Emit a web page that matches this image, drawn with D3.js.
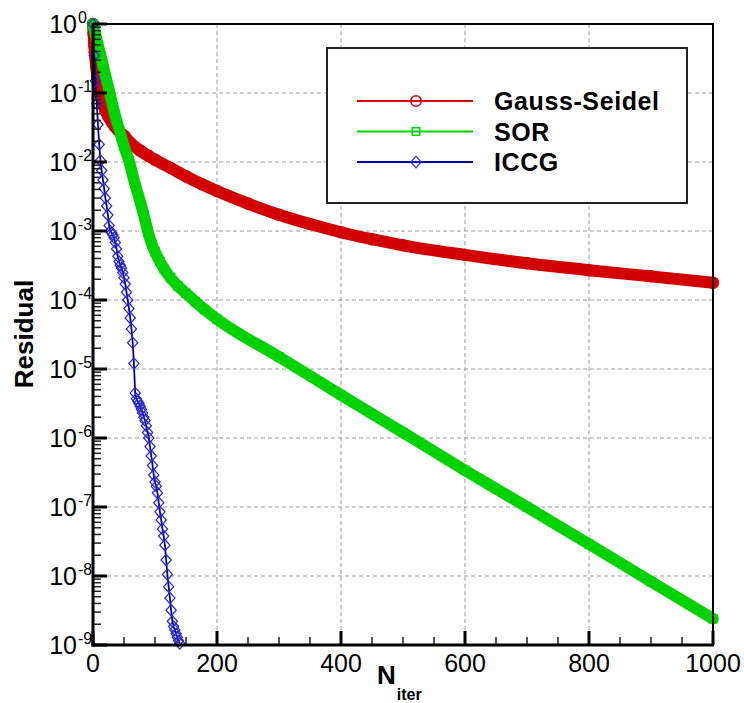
<!DOCTYPE html>
<html>
<head>
<meta charset="utf-8">
<script src="https://cdn.jsdelivr.net/npm/d3@7"></script>
<style>
  body { margin: 0; background: #fff; }
  svg { display: block; font-family: "Liberation Sans", Arial, Helvetica, sans-serif; }
</style>
</head>
<body>
<svg id="chart" width="744" height="703"></svg>
<script>
// Convergence history of three linear solvers: residual vs iteration count.

const seriesNames = ["Gauss-Seidel", "SOR", "ICCG"];

const gsIter = [0, 1, 2, 3, 5, 7, 10, 13, 16, 20, 25, 30, 35, 40, 50, 60, 75, 90, 100, 125, 150, 175,
  200, 250, 300, 350, 400, 450, 500, 600, 700, 800, 900, 1000];
const gsResidual = [1.0, 0.72, 0.5, 0.38, 0.25, 0.17, 0.11, 0.085, 0.07, 0.056, 0.045, 0.038, 0.033, 0.029,
  0.024, 0.019, 0.0148, 0.0122, 0.0108, 0.0082, 0.0062, 0.0048, 0.0038, 0.0025, 0.00172, 0.00126,
  0.00096, 0.00076, 0.00062, 0.00045, 0.00034, 0.00027, 0.00022, 0.000178];

const sorIter = [0, 5, 10, 15, 20, 27, 35, 43, 50, 58, 66, 74, 82, 89, 95, 100, 108, 115, 125, 137, 150,
  165, 180, 200, 300, 400, 500, 600, 700, 800, 900, 1000];
const sorResidual = [1.0, 0.65, 0.43, 0.28, 0.18, 0.1, 0.05, 0.028, 0.017, 0.0105, 0.0055, 0.0031, 0.0017,
  0.00095, 0.00064, 0.0005, 0.00036, 0.00028, 0.00021, 0.00016, 0.000125, 0.000095, 0.000073, 0.000053,
  1.5e-5, 4.2e-6, 1.2e-6, 3.4e-7, 1.0e-7, 2.9e-8, 8.3e-9, 2.4e-9];

const iccgIter = [0, 2, 4, 6, 8, 10, 12, 14, 16, 18, 20, 22, 24, 26, 28, 30, 32, 34, 36, 38, 40, 42, 44,
  46, 48, 50, 52, 54, 56, 58, 60, 62, 64, 66, 68, 70, 72, 74, 76, 78, 80, 82, 84, 86, 88, 90, 92, 94,
  96, 98, 100, 102, 104, 106, 108, 110, 112, 114, 116, 118, 120, 122, 124, 126, 128, 130, 132, 134,
  136, 138, 140];
const iccgResidual = [1.0, 0.35, 0.15, 0.07, 0.035, 0.018, 0.0105, 0.0075, 0.0055, 0.0041, 0.003, 0.0023,
  0.0017, 0.0012, 0.001, 0.00094, 0.00088, 0.0008, 0.00068, 0.00055, 0.00043, 0.00036, 0.00032,
  0.00029, 0.00025, 0.00021, 0.00017, 0.00013, 0.0001, 7.5e-5, 5.5e-5, 3.8e-5, 2.4e-5, 1.2e-5,
  4.5e-6, 3.7e-6, 3.4e-6, 3.2e-6, 2.9e-6, 2.6e-6, 2.3e-6, 2.0e-6, 1.8e-6, 1.5e-6, 1.2e-6, 1.0e-6,
  7.5e-7, 5.5e-7, 4.0e-7, 2.9e-7, 2.3e-7, 2.0e-7, 1.6e-7, 1.15e-7, 8.5e-8, 6.5e-8, 4.8e-8, 3.8e-8,
  2.8e-8, 1.7e-8, 1.05e-8, 7.0e-9, 4.8e-9, 3.2e-9, 2.2e-9, 1.85e-9, 1.65e-9, 1.45e-9, 1.3e-9,
  1.15e-9, 1.05e-9];

const xMajorTicks = [0, 200, 400, 600, 800, 1000];
const xGridTicks = [200, 400, 600, 800];
const yDecadeExponents = [0, -1, -2, -3, -4, -5, -6, -7, -8, -9];
const yTickLabels = ["0", "-1", "-2", "-3", "-4", "-5", "-6", "-7", "-8", "-9"];

const colors = { gs: "#d20000", sor: "#00d200", iccg: "#0000a8", iccgMarker: "#2a2acc" };

const svg = d3.select("#chart");
const plotL = 93, plotR = 713, plotT = 24, plotB = 645;

const x = d3.scaleLinear().domain([0, 1000]).range([plotL, plotR]);
const y = d3.scaleLog().domain([1e-9, 1]).range([plotB, plotT]);

// ---- grid ----
const grid = svg.append("g").attr("stroke", "#9a9a9a").attr("stroke-width", 1)
  .attr("stroke-dasharray", "4,3");
grid.selectAll("line.vx").data(xGridTicks).join("line").attr("class", "vx")
  .attr("x1", d => x(d)).attr("x2", d => x(d)).attr("y1", plotT).attr("y2", plotB);
grid.selectAll("line.hy").data(yDecadeExponents.filter(e => e < 0 && e > -9)).join("line").attr("class", "hy")
  .attr("x1", plotL).attr("x2", plotR).attr("y1", e => y(Math.pow(10, e))).attr("y2", e => y(Math.pow(10, e)));

// ---- series ----
const pts = (it, r) => it.map((n, i) => [n, r[i]]);
const gsData = pts(gsIter, gsResidual);
const sorData = pts(sorIter, sorResidual);
const iccgData = pts(iccgIter, iccgResidual);

const smooth = d3.line().x(d => x(d[0])).y(d => y(d[1])).curve(d3.curveMonotoneX);
const straight = d3.line().x(d => x(d[0])).y(d => y(d[1]));

// Gauss-Seidel: dense circle markers form a solid band
svg.append("path").datum(gsData).attr("d", smooth)
  .attr("fill", "none").attr("stroke", colors.gs).attr("stroke-width", 12)
  .attr("stroke-linecap", "round").attr("stroke-linejoin", "round");
svg.append("g").selectAll("circle").data(gsData).join("circle")
  .attr("cx", d => x(d[0])).attr("cy", d => y(d[1])).attr("r", 5.5)
  .attr("fill", "none").attr("stroke", colors.gs).attr("stroke-width", 1.5);

// SOR: dense square markers
svg.append("path").datum(sorData).attr("d", smooth)
  .attr("fill", "none").attr("stroke", colors.sor).attr("stroke-width", 11.5)
  .attr("stroke-linecap", "round").attr("stroke-linejoin", "round");
svg.append("g").selectAll("rect").data(sorData).join("rect")
  .attr("x", d => x(d[0]) - 4).attr("y", d => y(d[1]) - 4).attr("width", 8).attr("height", 8)
  .attr("fill", "none").attr("stroke", colors.sor).attr("stroke-width", 1.5);

// ICCG: thin line with open diamonds
svg.append("path").datum(iccgData).attr("d", straight)
  .attr("fill", "none").attr("stroke", colors.iccg).attr("stroke-width", 1.8);
const diamond = d3.symbol().type(d3.symbolSquare).size(52)();
svg.append("g").selectAll("path").data(iccgData).join("path")
  .attr("d", diamond)
  .attr("transform", d => `translate(${x(d[0])},${y(d[1])}) scale(1,1.1) rotate(45)`)
  .attr("fill", "none").attr("stroke", colors.iccgMarker).attr("stroke-width", 1.2);

// ---- frame ----
svg.append("rect").attr("x", plotL).attr("y", plotT).attr("width", plotR - plotL).attr("height", plotB - plotT)
  .attr("fill", "none").attr("stroke", "#000").attr("stroke-width", 2);

// ---- tick marks (pointing into the plot) ----
const xMinor = d3.range(50, 1000, 50).filter(v => v % 200 !== 0);
const yMinor = [];
yDecadeExponents.filter(e => e < 0).forEach(e => {
  for (let m = 2; m <= 9; m++) yMinor.push(m * Math.pow(10, e));
});
const tickLayer = svg.append("g");
tickLayer.selectAll("line.xm").data(xMinor).join("line").attr("class", "xm")
  .attr("x1", d => x(d)).attr("x2", d => x(d)).attr("y1", plotB).attr("y2", plotB - 8)
  .attr("stroke-width", 1.5).attr("stroke", "#222");
tickLayer.selectAll("line.xM").data(xMajorTicks).join("line").attr("class", "xM")
  .attr("x1", d => x(d)).attr("x2", d => x(d)).attr("y1", plotB).attr("y2", plotB - 14)
  .attr("stroke-width", 3).attr("stroke", "#000");
tickLayer.selectAll("line.ym").data(yMinor).join("line").attr("class", "ym")
  .attr("x1", plotL).attr("x2", plotL + 8).attr("y1", d => y(d)).attr("y2", d => y(d))
  .attr("stroke-width", 1.5).attr("stroke", "#222");
tickLayer.selectAll("line.yM").data(yDecadeExponents).join("line").attr("class", "yM")
  .attr("x1", plotL).attr("x2", plotL + 14)
  .attr("y1", e => y(Math.pow(10, e))).attr("y2", e => y(Math.pow(10, e)))
  .attr("stroke-width", 3).attr("stroke", "#000");

// thicker left and bottom axis lines
svg.append("line").attr("x1", plotL).attr("x2", plotL).attr("y1", plotT - 1).attr("y2", plotB + 1.5)
  .attr("stroke", "#000").attr("stroke-width", 3);
svg.append("line").attr("x1", plotL - 1.5).attr("x2", plotR + 1).attr("y1", plotB).attr("y2", plotB)
  .attr("stroke", "#000").attr("stroke-width", 3);

// x tick labels
svg.append("g").selectAll("text").data(xMajorTicks).join("text")
  .attr("x", d => x(d)).attr("y", plotB + 27).attr("text-anchor", "middle")
  .attr("font-size", 25).attr("fill", "#000").text(d => d3.format("d")(d));

// y tick labels: 10 with superscript exponent
const yLab = svg.append("g");
yDecadeExponents.forEach((e, i) => {
  const yy = y(Math.pow(10, e));
  yLab.append("text").attr("x", 77).attr("y", yy + 9).attr("text-anchor", "end")
    .attr("font-size", 25).text("10");
  yLab.append("text").attr("x", 78).attr("y", yy - 1.5).attr("font-size", 16).text(yTickLabels[i]);
});

// axis titles
svg.append("text").attr("transform", "translate(33,334) rotate(-90)").attr("text-anchor", "middle")
  .attr("font-size", 26).attr("font-weight", "bold").text("Residual");
const xt = svg.append("text").attr("x", 377).attr("y", 684).attr("font-weight", "bold");
xt.append("tspan").attr("font-size", 26).text("N");
xt.append("tspan").attr("font-size", 16).attr("dx", 1).attr("dy", 16).text("iter");

// ---- legend ----
const lg = svg.append("g");
lg.append("rect").attr("x", 327).attr("y", 48).attr("width", 360).attr("height", 155)
  .attr("fill", "#fff").attr("stroke", "#222").attr("stroke-width", 2);
const legendRows = [
  { name: seriesNames[0], color: "#e00000", mark: "circle" },
  { name: seriesNames[1], color: "#00d000", mark: "square" },
  { name: seriesNames[2], color: "#0000b0", mark: "diamond" }
];
const rowY = d3.scalePoint().domain(seriesNames).range([101, 162]);
legendRows.forEach(r => {
  const yy = rowY(r.name);
  lg.append("line").attr("x1", 357).attr("x2", 473).attr("y1", yy).attr("y2", yy)
    .attr("stroke", r.color).attr("stroke-width", 2);
  if (r.mark === "circle") {
    lg.append("circle").attr("cx", 416).attr("cy", yy).attr("r", 5.3)
      .attr("fill", "none").attr("stroke", r.color).attr("stroke-width", 1.5);
  } else if (r.mark === "square") {
    lg.append("rect").attr("x", 412.3).attr("y", yy - 3.7).attr("width", 7.4).attr("height", 7.4)
      .attr("fill", "none").attr("stroke", r.color).attr("stroke-width", 1.5);
  } else {
    lg.append("path").attr("d", diamond)
      .attr("transform", `translate(416,${yy}) scale(1,1.15) rotate(45)`)
      .attr("fill", "none").attr("stroke", "#3030d0").attr("stroke-width", 1.2);
  }
  lg.append("text").attr("x", 494).attr("y", yy + 9).attr("font-size", 25).attr("font-weight", "bold")
    .attr("letter-spacing", 0.6).text(r.name);
});
</script>
</body>
</html>
